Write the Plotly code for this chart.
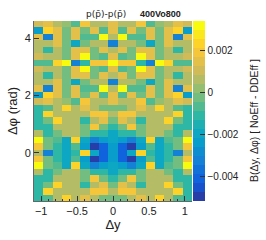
import plotly.graph_objects as go

# Bin centres
dy_centers = [-1.0353, -0.9059, -0.7765, -0.6471, -0.5176, -0.3882, -0.2588, -0.1294, 0.0,
              0.1294, 0.2588, 0.3882, 0.5176, 0.6471, 0.7765, 0.9059, 1.0353]
dphi_centers = [-1.5708, -1.3464, -1.1220, -0.8976, -0.6732, -0.4488, -0.2244, 0.0,
                0.2244, 0.4488, 0.6732, 0.8976, 1.1220, 1.3464, 1.5708, 1.7952,
                2.0196, 2.2440, 2.4684, 2.6928, 2.9172, 3.1416, 3.3660, 3.5904,
                3.8148, 4.0392, 4.2636, 4.4880]

# B(dy, dphi) values, one list per dphi bin (bottom to top)
row_k00 = [-0.0011, -0.0007, 0.0006, 0.0023, 0.0006, 0.0013, 0.0006, -0.0002, -0.0002, -0.0002, 0.0006, 0.0013, 0.0006, 0.0023, 0.0006, -0.0007, -0.0011]
row_k01 = [-0.0011, 0.0023, 0.0006, 0.0006, 0.0006, 0.0006, 0.0018, 0.0018, 0.0006, 0.0018, 0.0018, 0.0006, 0.0006, 0.0006, 0.0006, 0.0023, -0.0011]
row_k02 = [-0.0011, -0.0002, 0.0023, 0.0006, 0.0006, -0.0011, 0.0006, 0.0013, -0.0002, 0.0013, 0.0006, -0.0011, 0.0006, 0.0006, 0.0023, -0.0002, -0.0011]
row_k03 = [-0.0011, -0.0011, 0.0006, 0.0006, 0.0006, -0.0002, 0.0018, -0.0002, -0.0011, -0.0002, 0.0018, -0.0002, 0.0006, 0.0006, 0.0006, -0.0011, -0.0011]
row_k04 = [0.0006, -0.0011, -0.0002, 0.0006, 0.0006, -0.0002, -0.0011, -0.0011, -0.0019, -0.0011, -0.0011, -0.0002, 0.0006, 0.0006, -0.0002, -0.0011, 0.0006]
row_k05 = [0.0031, -0.0002, -0.0007, -0.0019, 0.0023, -0.0019, -0.0033, -0.0025, -0.0019, -0.0025, -0.0033, -0.0019, 0.0023, -0.0019, -0.0007, -0.0002, 0.0031]
row_k06 = [0.0018, -0.0002, -0.0011, -0.0019, -0.0007, -0.0025, -0.0049, -0.0040, -0.0025, -0.0040, -0.0049, -0.0025, -0.0007, -0.0019, -0.0011, -0.0002, 0.0018]
row_k07 = [0.0006, -0.0033, -0.0011, -0.0019, -0.0011, 0.0023, -0.0019, -0.0040, -0.0025, -0.0040, -0.0019, 0.0023, -0.0011, -0.0019, -0.0011, -0.0033, 0.0006]
row_k08 = [0.0018, -0.0002, -0.0011, -0.0019, -0.0007, -0.0025, -0.0049, -0.0040, -0.0025, -0.0040, -0.0049, -0.0025, -0.0007, -0.0019, -0.0011, -0.0002, 0.0018]
row_k09 = [0.0031, -0.0002, -0.0007, -0.0019, 0.0023, -0.0019, -0.0033, -0.0025, -0.0019, -0.0025, -0.0033, -0.0019, 0.0023, -0.0019, -0.0007, -0.0002, 0.0031]
row_k10 = [0.0006, -0.0011, -0.0002, 0.0006, 0.0006, -0.0002, -0.0011, -0.0011, -0.0019, -0.0011, -0.0011, -0.0002, 0.0006, 0.0006, -0.0002, -0.0011, 0.0006]
row_k11 = [-0.0011, -0.0011, 0.0006, 0.0006, 0.0006, -0.0002, 0.0018, -0.0002, -0.0011, -0.0002, 0.0018, -0.0002, 0.0006, 0.0006, 0.0006, -0.0011, -0.0011]
row_k12 = [-0.0011, -0.0002, 0.0023, 0.0006, 0.0006, -0.0011, 0.0006, 0.0013, -0.0002, 0.0013, 0.0006, -0.0011, 0.0006, 0.0006, 0.0023, -0.0002, -0.0011]
row_k13 = [-0.0011, 0.0023, 0.0006, 0.0006, 0.0006, 0.0006, 0.0018, 0.0018, 0.0006, 0.0018, 0.0018, 0.0006, 0.0006, 0.0006, 0.0006, 0.0023, -0.0011]
row_k14 = [-0.0011, -0.0007, 0.0006, 0.0023, 0.0006, 0.0013, 0.0006, -0.0002, -0.0002, -0.0002, 0.0006, 0.0013, 0.0006, 0.0023, 0.0006, -0.0007, -0.0011]
row_k15 = [0.0010, 0.0013, 0.0006, 0.0002, -0.0007, 0.0018, 0.0006, 0.0006, 0.0013, 0.0006, 0.0006, 0.0018, -0.0007, 0.0002, 0.0006, 0.0013, 0.0010]
row_k16 = [-0.0025, 0.0023, 0.0013, -0.0002, 0.0013, -0.0002, 0.0013, -0.0007, 0.0013, -0.0007, 0.0013, -0.0002, 0.0013, -0.0002, 0.0013, 0.0023, -0.0025]
row_k17 = [0.0013, -0.0033, 0.0013, -0.0002, 0.0013, -0.0007, -0.0007, 0.0031, 0.0006, 0.0031, -0.0007, -0.0007, 0.0013, -0.0002, 0.0013, -0.0033, 0.0013]
row_k18 = [0.0006, 0.0006, 0.0013, -0.0002, -0.0019, -0.0002, 0.0006, 0.0006, -0.0033, 0.0006, 0.0006, -0.0002, -0.0019, -0.0002, 0.0013, 0.0006, 0.0006]
row_k19 = [0.0006, -0.0011, 0.0006, -0.0002, 0.0013, 0.0013, -0.0002, 0.0013, 0.0006, 0.0013, -0.0002, 0.0013, 0.0013, -0.0002, 0.0006, -0.0011, 0.0006]
row_k20 = [0.0010, 0.0006, 0.0006, -0.0002, 0.0013, 0.0031, -0.0002, -0.0007, 0.0013, -0.0007, -0.0002, 0.0031, 0.0013, -0.0002, 0.0006, 0.0006, 0.0010]
row_k21 = [-0.0007, -0.0007, 0.0023, 0.0031, -0.0033, -0.0011, 0.0018, 0.0018, 0.0031, 0.0018, 0.0018, -0.0011, -0.0033, 0.0031, 0.0023, -0.0007, -0.0007]
row_k22 = [0.0010, 0.0006, 0.0006, -0.0002, 0.0013, 0.0031, -0.0002, -0.0007, 0.0013, -0.0007, -0.0002, 0.0031, 0.0013, -0.0002, 0.0006, 0.0006, 0.0010]
row_k23 = [0.0006, -0.0011, 0.0006, -0.0002, 0.0013, 0.0013, -0.0002, 0.0013, 0.0006, 0.0013, -0.0002, 0.0013, 0.0013, -0.0002, 0.0006, -0.0011, 0.0006]
row_k24 = [0.0006, 0.0006, 0.0013, -0.0002, -0.0019, -0.0002, 0.0006, 0.0006, -0.0033, 0.0006, 0.0006, -0.0002, -0.0019, -0.0002, 0.0013, 0.0006, 0.0006]
row_k25 = [0.0013, -0.0033, 0.0013, -0.0002, 0.0013, -0.0007, -0.0007, 0.0031, 0.0006, 0.0031, -0.0007, -0.0007, 0.0013, -0.0002, 0.0013, -0.0033, 0.0013]
row_k26 = [-0.0025, 0.0023, 0.0013, -0.0002, 0.0013, -0.0002, 0.0013, -0.0007, 0.0013, -0.0007, 0.0013, -0.0002, 0.0013, -0.0002, 0.0013, 0.0023, -0.0025]
row_k27 = [0.0010, 0.0013, 0.0006, 0.0002, -0.0007, 0.0018, 0.0006, 0.0006, 0.0013, 0.0006, 0.0006, 0.0018, -0.0007, 0.0002, 0.0006, 0.0013, 0.0010]

z_rows = [row_k00, row_k01, row_k02, row_k03, row_k04, row_k05, row_k06, row_k07,
          row_k08, row_k09, row_k10, row_k11, row_k12, row_k13, row_k14, row_k15,
          row_k16, row_k17, row_k18, row_k19, row_k20, row_k21, row_k22, row_k23,
          row_k24, row_k25, row_k26, row_k27]

x_ticks = [-1, -0.5, 0, 0.5, 1]
y_ticks = [0, 2, 4]
cb_ticks = [-0.004, -0.002, 0, 0.002]
cb_ticktext = ["\u22120.004", "\u22120.002", "0", "0.002"]

ZMIN, ZMAX = -0.00516, 0.00339
NBANDS = 20

# ROOT kBird palette, discretised into contour bands
stops = [0.0, 0.125, 0.25, 0.375, 0.5, 0.625, 0.75, 0.875, 1.0]
red = [0.2082, 0.0592, 0.0780, 0.0232, 0.1802, 0.5301, 0.8186, 0.9956, 0.9764]
green = [0.1664, 0.3599, 0.5041, 0.6419, 0.7178, 0.7492, 0.7328, 0.7862, 0.9832]
blue = [0.5293, 0.8684, 0.8385, 0.7914, 0.6425, 0.4662, 0.3499, 0.1968, 0.0539]


def bird(f):
    for i in range(len(stops) - 1):
        if stops[i] <= f <= stops[i + 1]:
            t = (f - stops[i]) / (stops[i + 1] - stops[i])
            r = red[i] + t * (red[i + 1] - red[i])
            g = green[i] + t * (green[i + 1] - green[i])
            b = blue[i] + t * (blue[i + 1] - blue[i])
            return "rgb(%d,%d,%d)" % (round(r * 255), round(g * 255), round(b * 255))
    return "rgb(250,251,14)"


colorscale = []
for i in range(NBANDS):
    f = int((i + 0.99) * 255 / NBANDS) / 254.0
    c = bird(min(f, 1.0))
    colorscale.append([i / NBANDS, c])
    colorscale.append([(i + 1) / NBANDS, c])

FONT = "Liberation Sans, Arial, Helvetica, sans-serif"
W, H = 266, 240
ML, MR, MT, MB = 32, 74, 21, 33
PW, PH = W - ML - MR, H - MT - MB

fig = go.Figure(go.Heatmap(
    x=dy_centers, y=dphi_centers, z=z_rows,
    zmin=ZMIN, zmax=ZMAX, colorscale=colorscale, zsmooth=False,
    colorbar=dict(
        x=1.0, xanchor="left", xpad=1, y=0.5, yanchor="middle",
        len=1.0, lenmode="fraction", ypad=0,
        thickness=12, thicknessmode="pixels", outlinewidth=0,
        tickvals=cb_ticks, ticktext=cb_ticktext,
        ticks="inside", ticklen=5, tickcolor="#333",
        tickfont=dict(family=FONT, size=10, color="#222"),
    ),
))


def px2paper(px, py):
    return (px - ML) / PW, (H - MB - py) / PH


ax1, ay1 = px2paper(105, 14)
ax2, ay2 = px2paper(160, 14)
ax3, ay3 = px2paper(254, 124)

fig.update_layout(
    width=W, height=H,
    margin=dict(l=ML, r=MR, t=MT, b=MB),
    paper_bgcolor="white", plot_bgcolor="white",
    font=dict(family=FONT, size=11, color="#222"),
    xaxis=dict(range=[-1.1, 1.1], tickvals=x_ticks, ticks="inside", ticklen=5,
               tickcolor="#333", showgrid=False, zeroline=False,
               showline=True, linecolor="#666", linewidth=1,
               minor=dict(dtick=0.1, ticks="inside", ticklen=2, tickcolor="#333"),
               title=dict(text="\u0394y", font=dict(family=FONT, size=13), standoff=2),
               tickfont=dict(family=FONT, size=11)),
    yaxis=dict(range=[-1.683, 4.600], tickvals=y_ticks, ticks="inside", ticklen=5,
               tickcolor="#333", showgrid=False, zeroline=False,
               showline=True, linecolor="#666", linewidth=1,
               title=dict(text="\u0394\u03c6 (rad)", font=dict(family=FONT, size=13), standoff=4),
               tickfont=dict(family=FONT, size=11)),
    annotations=[
        dict(text="p(p\u0304)-p(p\u0304)", x=ax1, y=ay1, xref="paper", yref="paper",
             xanchor="center", yanchor="middle", showarrow=False,
             font=dict(family="DejaVu Sans, " + FONT, size=9, color="#222")),
        dict(text="<b>400Vo800</b>", x=ax2, y=ay2, xref="paper", yref="paper",
             xanchor="center", yanchor="middle", showarrow=False,
             font=dict(family=FONT, size=9, color="#222")),
        dict(text="B(\u0394y, \u0394\u03c6) [ NoEff - DDEff ]", x=ax3, y=ay3,
             xref="paper", yref="paper", xanchor="center", yanchor="middle",
             textangle=-90, showarrow=False,
             font=dict(family=FONT, size=10.5, color="#222")),
    ],
)

fig.write_html("out.html", config={"displayModeBar": False},
               post_script="document.body.style.margin='0';")
